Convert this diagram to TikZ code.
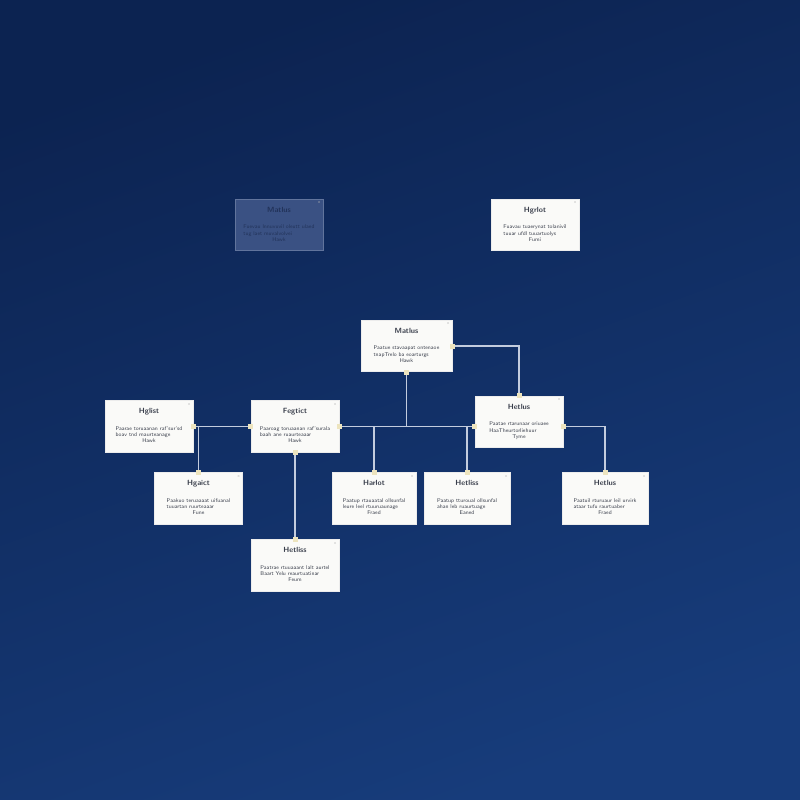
\documentclass[tikz,border=0pt]{standalone}
\usepackage{tikz}
\usetikzlibrary{calc}

\definecolor{bgtop}{HTML}{0C2351}
\definecolor{bgbot}{HTML}{173C7B}
\definecolor{cardfill}{HTML}{FAFAF8}
\definecolor{cardtext}{HTML}{3A3F4C}
\definecolor{linkcol}{HTML}{C3CCDE}
\definecolor{pincol}{HTML}{EDE4BE}
\definecolor{fadefill}{HTML}{3A5183}
\definecolor{fadetext}{HTML}{22335A}

% card contents: title, two body lines, centred footer
\newcommand{\cardtext}[4]{%
  {\fontsize{4.3}{5}\selectfont\bfseries #1}\\[1.6pt]
  {\fontsize{3.1}{3.5}\selectfont\begin{tabular}{@{}l@{}}#2\\#3\\\multicolumn{1}{@{}c@{}}{#4}\end{tabular}}}

\begin{document}
\begin{tikzpicture}
[
    x=0.02cm, y=-0.02cm,
    card/.style={draw=white!85!gray, line width=0.3pt, fill=cardfill, text=cardtext,
        minimum width=1.76cm, minimum height=1.03cm, inner sep=0pt, align=center,
        font=\sffamily},
    faded/.style={card, fill=fadefill, draw=fadefill!80!white, text=fadetext},
    link/.style={draw=linkcol, line width=0.6pt},
    pin/.style={fill=pincol, minimum size=0.1cm, inner sep=0pt},
]
\shade[top color=bgtop, bottom color=bgbot, shading angle=20] (0,0) rectangle (800,800);
\useasboundingbox (0,0) rectangle (800,800);

\node [faded] (hatlus) at (279,225)
{\cardtext{Matlus}{Fuevau lnnuvuvil oleutt ulaed}{tug laet muvalvolvei}{Hawk}};
\node [card] (hgrlot) at (535,225)
{\cardtext{Hgrlot}{Fuavau tuaerynat tolanivil}{tuuar ufdl tuuartuolys}{Fumi}};
\node [card, minimum width=1.82cm] (matlus) at (406.5,346)
{\cardtext{Matlus}{Paatue stavaapat ontenaoe}{tnapTrelo ba eoarturgs}{Hawk}};
\node [card] (hglist) at (149,426.5)
{\cardtext{Hglist}{Paarae toruaanan raf'sur'sd}{boav tnd rnaurteanage}{Hawk}};
\node [card] (fegtict) at (295,426.5)
{\cardtext{Fegtict}{Paaroag toruaanan raf'surala}{baah ane ruaurteaaar}{Hawk}};
\node [card] (hetlus) at (519,422)
{\cardtext{Hetlus}{Paatae rtarunaar oriuaee}{HaaTheurtorliehuur}{Tyme}};
\node [card] (hgaict) at (198.5,498.5)
{\cardtext{Hgaict}{Paakuo teruaaaat uifuanal}{tuuartan ruurteaaar}{Fune}};
\node [card, minimum width=1.68cm] (harlot) at (374,498.5)
{\cardtext{Harlot}{Paatup rtauaatal ollsunfal}{leure leel rtuuruaunage}{Fraed}};
\node [card, minimum width=1.72cm] (hetliss) at (467,498.5)
{\cardtext{Hetliss}{Paatup tturoual ollsunfal}{ahan leb ruaurtuage}{Eaned}};
\node [card, minimum width=1.72cm] (hgtlus) at (605,498.5)
{\cardtext{Hetlus}{Paatuil rturuaur leil urvirk}{ataar tufu raurtuaber}{Fraed}};
\node [card] (hetlus2) at (295,565.5)
{\cardtext{Hetliss}{Paatrae rtuuaaant lalt aurtel}{Baart Yelu reaurtuatinar}{Feum}};

% close marks
\foreach \n in {hatlus,hgrlot,matlus,hglist,fegtict,hetlus,hgaict,harlot,hetliss,hgtlus,hetlus2}
    \node [font=\sffamily\fontsize{2.5}{3}\selectfont, text=gray!60, inner sep=0pt]
        (x-\n) at ($(\n.north east)+(-4,4)$) {x};

% connectors
\coordinate (bus) at (hglist.east);
\draw [link] (hglist.east) -- (fegtict.west);
\draw [link] (fegtict.east) -- (fegtict.east -| hetlus.west);
\draw [link] (matlus.south) -- (matlus.south |- bus);
\draw [link] (matlus.east) -| (hetlus.north);
\draw [link] (hetlus.east |- bus) -| (hgtlus.north);
\draw [link] (fegtict.south) -- (hetlus2.north);
\draw [link] (hgaict.north) -- (hgaict.north |- bus);
\draw [link] (harlot.north) -- (harlot.north |- bus);
\draw [link] (hetliss.north) -- (hetliss.north |- bus);

% pins
\foreach \p in {matlus.east, matlus.south, hglist.east, fegtict.west, fegtict.east,
    fegtict.south, hetlus.north, hgaict.north, harlot.north, hetliss.north,
    hgtlus.north, hetlus2.north}
    \node [pin] at (\p) {};
\node [pin] (pin-hl) at (hetlus.west |- bus) {};
\node [pin] (pin-hr) at (hetlus.east |- bus) {};
\end{tikzpicture}
\end{document}
